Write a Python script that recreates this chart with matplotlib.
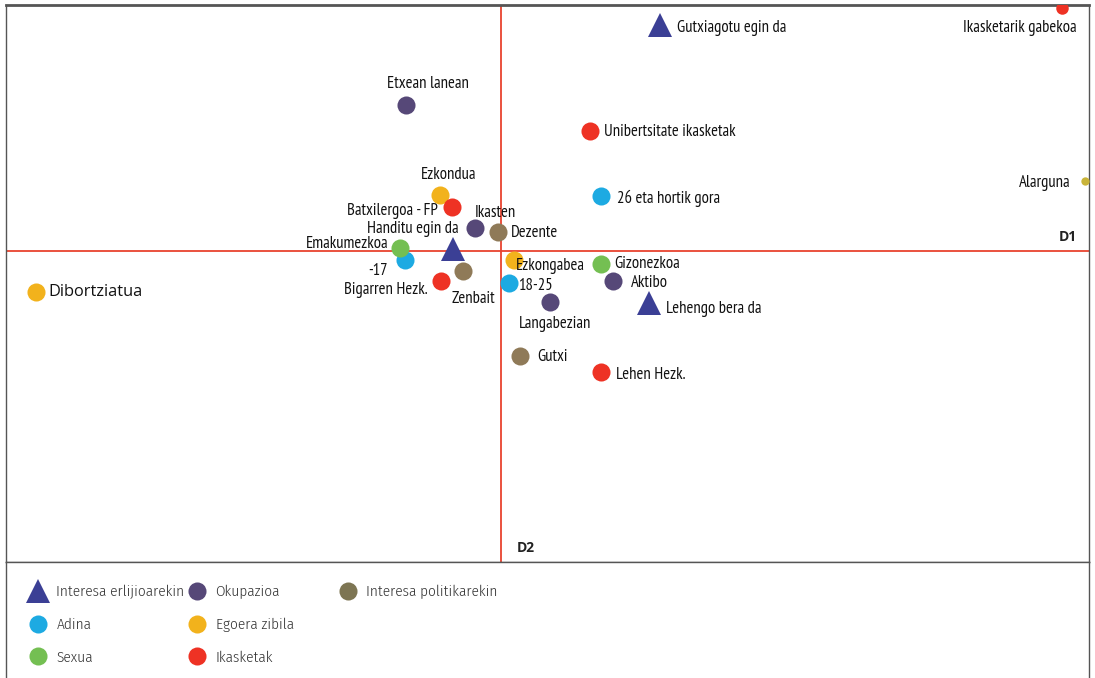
import matplotlib
matplotlib.use("Agg")
import matplotlib.pyplot as plt
from matplotlib.lines import Line2D
from matplotlib.legend import Legend

# correspondence analysis coordinates (D1, D2)
erlijio_labels = ["Gutxiagotu egin da", "Handitu egin da", "Lehengo bera da"]
erlijio_d1 = [0.795, -0.24, 0.74]
erlijio_d2 = [1.13, 0.01, -0.26]

okup_labels = ["Etxean lanean", "Ikasten", "Aktibo", "Langabezian"]
okup_d1 = [-0.475, -0.13, 0.56, 0.245]
okup_d2 = [0.73, 0.115, -0.15, -0.255]

adina_labels = ["26 eta hortik gora", "-17", "18-25"]
adina_d1 = [0.50, -0.48, 0.04]
adina_d2 = [0.275, -0.045, -0.16]

sexua_labels = ["Emakumezkoa", "Gizonezkoa"]
sexua_d1 = [-0.505, 0.50]
sexua_d2 = [0.015, -0.065]

egoera_labels = ["Ezkondua", "Ezkongabea", "Dibortziatua", "Alarguna"]
egoera_d1 = [-0.305, 0.065, -2.325, 2.92]
egoera_d2 = [0.28, -0.045, -0.205, 0.35]

ikasketa_labels = ["Ikasketarik gabekoa", "Unibertsitate ikasketak", "Batxilergoa - FP",
                   "Bigarren Hezk.", "Lehen Hezk."]
ikasketa_d1 = [2.805, 0.445, -0.245, -0.30, 0.50]
ikasketa_d2 = [1.215, 0.60, 0.22, -0.15, -0.605]

politika_labels = ["Dezente", "Zenbait", "Gutxi"]
politika_d1 = [-0.015, -0.19, 0.095]
politika_d2 = [0.095, -0.10, -0.525]

group_names = ["Interesa erlijioarekin", "Okupazioa", "Interesa politikarekin",
               "Adina", "Egoera zibila", "Sexua", "Ikasketak"]

# styles
colors = {
    "Interesa erlijioarekin": "#3b3f95",
    "Okupazioa": "#564878",
    "Interesa politikarekin": "#8f7a58",
    "Adina": "#1daae2",
    "Egoera zibila": "#f2b21c",
    "Sexua": "#74bf52",
    "Ikasketak": "#ee3224",
}
legend_colors = dict(colors)
legend_colors["Interesa politikarekin"] = "#7d7553"
markers = {g: "o" for g in group_names}
markers["Interesa erlijioarekin"] = "^"
small = {"Alarguna": 6, "Ikasketarik gabekoa": 9}
point_color = {"Alarguna": "#c9b43a"}

# label offsets in pixels (dx, dy, ha)
offsets = {
    "Gutxiagotu egin da": (17, -3, "left"),
    "Handitu egin da": (6, 20, "right"),
    "Lehengo bera da": (17, -6, "left"),
    "Etxean lanean": (22, 21, "center"),
    "Ikasten": (20, 15, "center"),
    "Aktibo": (18, -2, "left"),
    "Langabezian": (5, -22, "center"),
    "26 eta hortik gora": (16, -2, "left"),
    "-17": (-17, -11, "right"),
    "18-25": (9, -3, "left"),
    "Emakumezkoa": (-11, 4, "right"),
    "Gizonezkoa": (13, 0, "left"),
    "Ezkondua": (9, 20, "center"),
    "Ezkongabea": (2, -6, "left"),
    "Dibortziatua": (12, 0, "left"),
    "Alarguna": (-14, -2, "right"),
    "Ikasketarik gabekoa": (15, -20, "right"),
    "Unibertsitate ikasketak": (14, -1, "left"),
    "Batxilergoa - FP": (-14, -4, "right"),
    "Bigarren Hezk.": (-13, -9, "right"),
    "Lehen Hezk.": (15, -3, "left"),
    "Dezente": (13, -1, "left"),
    "Zenbait": (10, -28, "center"),
    "Gutxi": (17, -1, "left"),
}

series = {
    "Interesa erlijioarekin": (erlijio_labels, erlijio_d1, erlijio_d2),
    "Okupazioa": (okup_labels, okup_d1, okup_d2),
    "Interesa politikarekin": (politika_labels, politika_d1, politika_d2),
    "Adina": (adina_labels, adina_d1, adina_d2),
    "Egoera zibila": (egoera_labels, egoera_d1, egoera_d2),
    "Sexua": (sexua_labels, sexua_d1, sexua_d2),
    "Ikasketak": (ikasketa_labels, ikasketa_d1, ikasketa_d2),
}

narrow = ["PT Sans Narrow", "Fira Sans Condensed", "Roboto Condensed",
          "Sofia Sans Condensed", "Liberation Sans Narrow", "DejaVu Sans"]
wide = ["Open Sans", "DejaVu Sans"]
red = "#e8432f"
frame = "#555555"

fig = plt.figure(figsize=(10.95, 6.78), dpi=100)
ax = fig.add_axes([6 / 1095, 116 / 678, 1083 / 1095, 557 / 678])
ax.set_xlim(-2.475, 2.94)
ax.set_ylim(-1.555, 1.23)
ax.set_xticks([])
ax.set_yticks([])
for s in ax.spines.values():
    s.set_color(frame)
    s.set_linewidth(1.0)
ax.spines["top"].set_linewidth(2.0)

ax.axhline(0, color=red, lw=1.3, zorder=1)
ax.axvline(0, color=red, lw=1.3, zorder=1)

for g in group_names:
    labels, d1, d2 = series[g]
    for lab, x, y in zip(labels, d1, d2):
        ms = small.get(lab, 17 if markers[g] == "^" else 13)
        ax.plot(x, y, marker=markers[g], color=point_color.get(lab, colors[g]),
                ms=ms, mew=0, linestyle="none", zorder=3)
        dx, dy, ha = offsets[lab]
        if lab == "Dibortziatua":
            fam, fs = wide, 11.8
        else:
            fam, fs = narrow, 12
        ax.annotate(lab, (x, y), xytext=(dx, dy), textcoords="offset pixels",
                    ha=ha, va="center", fontsize=fs, family=fam, color="#111111",
                    zorder=4)

ax.text(0.9806, 0.5835, "D1", transform=ax.transAxes, ha="center", va="center",
        fontsize=10, fontweight="bold", family=wide, color="#222222")
ax.text(0.4802, 0.0251, "D2", transform=ax.transAxes, ha="center", va="center",
        fontsize=10, fontweight="bold", family=wide, color="#222222")

# legend panel
lax = fig.add_axes([6 / 1095, -0.01, 1083 / 1095, 116 / 678 + 0.01])
lax.set_xticks([])
lax.set_yticks([])
lax.spines["bottom"].set_visible(False)
for s in lax.spines.values():
    s.set_color(frame)
    s.set_linewidth(1.0)


def handle(g):
    ms = 17 if markers[g] == "^" else 13
    return Line2D([], [], marker=markers[g], color=legend_colors[g], ms=ms,
                  mew=0, linestyle="none")


columns = [
    (["Interesa erlijioarekin", "Adina", "Sexua"], 29),
    (["Okupazioa", "Egoera zibila", "Ikasketak"], 188),
    (["Interesa politikarekin"], 339),
]
for names, xpix in columns:
    leg = Legend(lax, [handle(n) for n in names], names, loc="upper left",
                 bbox_to_anchor=(xpix / 1095, 1 - 585 / 678),
                 bbox_transform=fig.transFigure, frameon=False,
                 borderpad=0, borderaxespad=0, handlelength=1.2,
                 handletextpad=0.6, labelspacing=1.2,
                 prop={"family": ["Fira Sans Condensed", "PT Sans Narrow",
                                  "Roboto Condensed", "DejaVu Sans"],
                       "size": 11, "weight": 300})
    for t in leg.get_texts():
        t.set_color("#333333")
    lax.add_artist(leg)

fig.savefig("out.png", dpi=100)
